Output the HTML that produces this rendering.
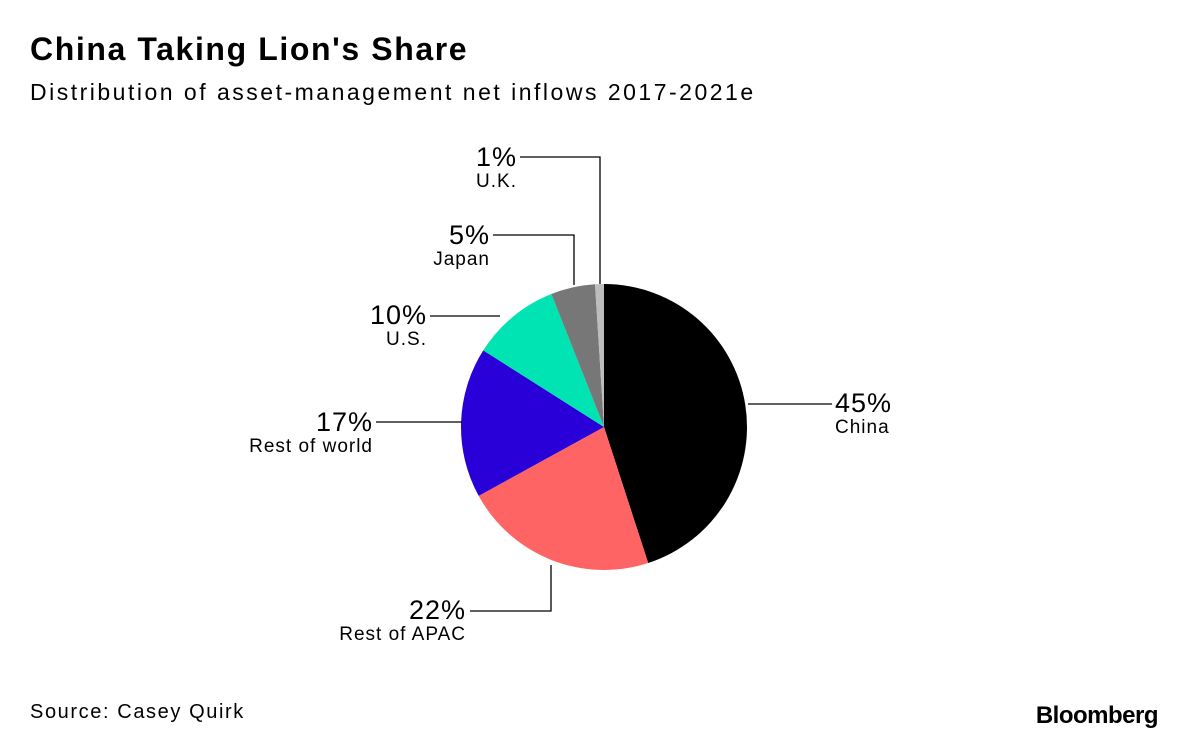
<!DOCTYPE html>
<html><head><meta charset="utf-8"><style>
body{margin:0;background:#fff;width:1200px;height:744px;overflow:hidden;font-family:"Liberation Sans",sans-serif}
</style></head><body>
<svg width="1200" height="744" viewBox="0 0 1200 744">
<text x="30" y="60" font-size="32" font-weight="bold" fill="#000" letter-spacing="1.6">China Taking Lion's Share</text>
<text x="30" y="100" font-size="23" fill="#000" letter-spacing="2.5">Distribution of asset-management net inflows 2017-2021e</text>
<g id="pie"></g>
<g id="labels"></g>
<text x="30" y="718" font-size="20" fill="#000" letter-spacing="1.6">Source: Casey Quirk</text>
<text x="1158" y="723" font-size="24" font-weight="bold" fill="#000" text-anchor="end" letter-spacing="-0.5">Bloomberg</text>
</svg>
<script>
const categories=["China","Rest of APAC","Rest of world","U.S.","Japan","U.K."];
const values=[45,22,17,10,5,1];
const colors=["#000000","#ff6464","#2a00d8","#00e3b3","#777777","#bdbdbd"];
const cx=604,cy=427,r=143;
const NS="http://www.w3.org/2000/svg";
const pie=document.getElementById('pie');
const total=values.reduce((a,b)=>a+b,0);
let a0=0;
function pt(a,rr){return [cx+rr*Math.sin(a),cy-rr*Math.cos(a)];}
values.forEach((v,i)=>{
  const a1=a0+v/total*2*Math.PI;
  const p0=pt(a0,r),p1=pt(a1,r);
  const large=(a1-a0)>Math.PI?1:0;
  const path=document.createElementNS(NS,'path');
  path.setAttribute('d',`M${cx},${cy}L${p0[0]},${p0[1]}A${r},${r} 0 ${large} 1 ${p1[0]},${p1[1]}Z`);
  path.setAttribute('fill',colors[i]);
  
  
  pie.appendChild(path);
  a0=a1;
});
const layout=[
 {pts:[[748,404],[832,404]],x:835,y:412,anchor:"start"},
 {pts:[[551,565],[551,611],[470,611]],x:466,y:619,anchor:"end"},
 {pts:[[462,422],[376,422]],x:373,y:431,anchor:"end"},
 {pts:[[500,316],[430,316]],x:427,y:324,anchor:"end"},
 {pts:[[574,285],[574,235],[493,235]],x:490,y:244,anchor:"end"},
 {pts:[[600,284],[600,157],[520,157]],x:517,y:166,anchor:"end"}
];
const lg=document.getElementById('labels');
values.forEach((v,i)=>{
  const L=layout[i];
  const pl=document.createElementNS(NS,'polyline');
  pl.setAttribute('points',L.pts.map(p=>p.join(',')).join(' '));
  pl.setAttribute('fill','none');pl.setAttribute('stroke','#000');pl.setAttribute('stroke-width','1.3');
  
  
  lg.appendChild(pl);
  const t=document.createElementNS(NS,'text');
  t.setAttribute('x',L.x);t.setAttribute('y',L.y);t.setAttribute('text-anchor',L.anchor);
  t.setAttribute('font-size','27');t.setAttribute('letter-spacing','1');t.textContent=v+'%';
  
  
  lg.appendChild(t);
  const c=document.createElementNS(NS,'text');
  c.setAttribute('x',L.x);c.setAttribute('y',L.y+21);c.setAttribute('text-anchor',L.anchor);
  c.setAttribute('font-size','19');c.setAttribute('letter-spacing','1');c.textContent=categories[i];
  
  
  lg.appendChild(c);
});
</script>
</body></html>
